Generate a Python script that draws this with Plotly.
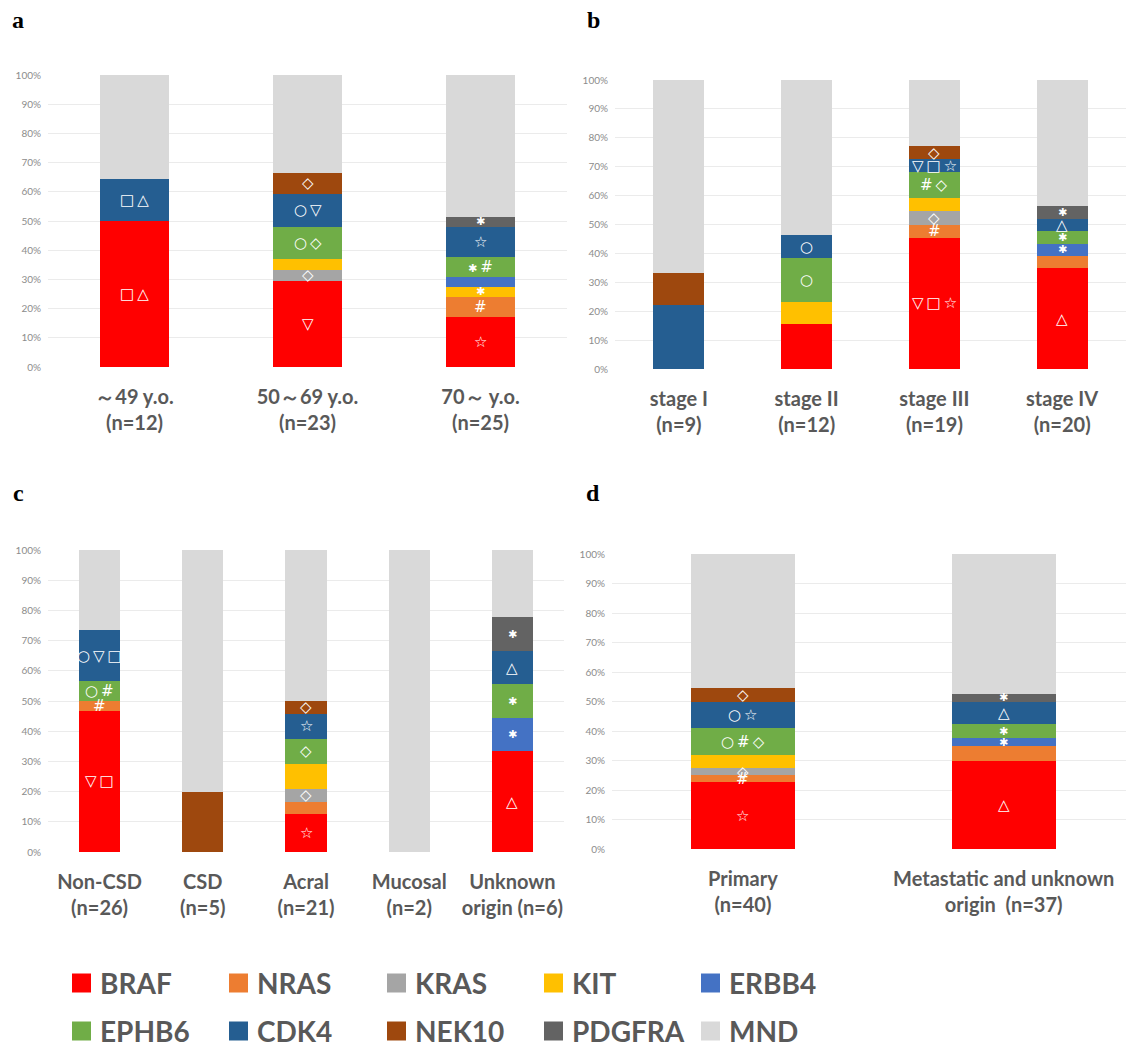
import plotly.graph_objects as go

# ---------------- data ----------------
genes = ["BRAF", "NRAS", "KRAS", "KIT", "ERBB4", "EPHB6", "CDK4", "NEK10", "PDGFRA", "MND"]
gene_colors = ["#FF0000", "#ED7D31", "#A5A5A5", "#FFC000", "#4472C4",
               "#70AD47", "#255E91", "#9E480E", "#636363", "#D9D9D9"]

# panel a: age
age_categories = ["～49 y.o.<br>(n=12)", "50～69 y.o.<br>(n=23)", "70～ y.o.<br>(n=25)"]
age_values = {
    "BRAF": [50.0, 29.6, 17.2], "NRAS": [0, 0, 6.9], "KRAS": [0, 3.7, 0],
    "KIT": [0, 3.7, 3.4], "ERBB4": [0, 0, 3.4], "EPHB6": [0, 11.1, 6.9],
    "CDK4": [14.3, 11.1, 10.3], "NEK10": [0, 7.4, 0], "PDGFRA": [0, 0, 3.4],
    "MND": [35.7, 33.4, 48.5],
}
age_symbols = {
    "BRAF": ["□△", "▽", "☆"], "NRAS": ["", "", "#"], "KRAS": ["", "◇", ""],
    "KIT": ["", "", "✱"], "EPHB6": ["", "○◇", "✱#"], "CDK4": ["□△", "○▽", "☆"],
    "NEK10": ["", "◇", ""], "PDGFRA": ["", "", "✱"],
}

# panel b: stage
stage_categories = ["stage I<br>(n=9)", "stage II<br>(n=12)", "stage III<br>(n=19)", "stage IV<br>(n=20)"]
stage_values = {
    "BRAF": [0, 15.4, 45.5, 34.8], "NRAS": [0, 0, 4.5, 4.3], "KRAS": [0, 0, 4.5, 0],
    "KIT": [0, 7.7, 4.5, 0], "ERBB4": [0, 0, 0, 4.3], "EPHB6": [0, 15.4, 9.1, 4.3],
    "CDK4": [22.2, 7.7, 4.5, 4.3], "NEK10": [11.1, 0, 4.5, 0], "PDGFRA": [0, 0, 0, 4.3],
    "MND": [66.7, 53.8, 22.9, 43.7],
}
stage_symbols = {
    "BRAF": ["", "", "▽□☆", "△"], "NRAS": ["", "", "#", ""], "KRAS": ["", "", "◇", ""],
    "ERBB4": ["", "", "", "✱"], "EPHB6": ["", "○", "#◇", "✱"],
    "CDK4": ["", "○", "▽□☆", "△"], "NEK10": ["", "", "◇", ""], "PDGFRA": ["", "", "", "✱"],
}

# panel c: subtype
type_categories = ["Non-CSD<br>(n=26)", "CSD<br>(n=5)", "Acral<br>(n=21)",
                   "Mucosal<br>(n=2)", "Unknown<br>origin (n=6)"]
type_values = {
    "BRAF": [46.7, 0, 12.5, 0, 33.3], "NRAS": [3.3, 0, 4.2, 0, 0], "KRAS": [0, 0, 4.2, 0, 0],
    "KIT": [0, 0, 8.3, 0, 0], "ERBB4": [0, 0, 0, 0, 11.1], "EPHB6": [6.7, 0, 8.3, 0, 11.1],
    "CDK4": [16.7, 0, 8.3, 0, 11.1], "NEK10": [0, 20.0, 4.2, 0, 0],
    "PDGFRA": [0, 0, 0, 0, 11.1], "MND": [26.6, 80.0, 50.0, 100.0, 22.3],
}
type_symbols = {
    "BRAF": ["▽□", "", "☆", "", "△"], "NRAS": ["#", "", "", "", ""],
    "KRAS": ["", "", "◇", "", ""], "ERBB4": ["", "", "", "", "✱"],
    "EPHB6": ["○#", "", "◇", "", "✱"], "CDK4": ["○▽□", "", "☆", "", "△"],
    "NEK10": ["", "", "◇", "", ""], "PDGFRA": ["", "", "", "", "✱"],
}

# panel d: site
site_categories = ["Primary<br>(n=40)", "Metastatic and unknown<br>origin  (n=37)"]
site_values = {
    "BRAF": [22.7, 30.0], "NRAS": [2.3, 5.0], "KRAS": [2.3, 0], "KIT": [4.5, 0],
    "ERBB4": [0, 2.5], "EPHB6": [9.1, 5.0], "CDK4": [9.1, 7.5], "NEK10": [4.5, 0],
    "PDGFRA": [0, 2.5], "MND": [45.5, 47.5],
}
site_symbols = {
    "BRAF": ["☆", "△"], "NRAS": ["#", ""], "KRAS": ["◇", ""], "ERBB4": ["", "✱"],
    "EPHB6": ["○#◇", "✱"], "CDK4": ["○☆", "△"], "NEK10": ["◇", ""], "PDGFRA": ["", "✱"],
}

panel_letters = ["a", "b", "c", "d"]

# ---------------- figure ----------------
W, H = 1126, 1049
fig = go.Figure()

panels = [
    (age_categories, age_values, age_symbols, "x", "y"),
    (stage_categories, stage_values, stage_symbols, "x2", "y2"),
    (type_categories, type_values, type_symbols, "x3", "y3"),
    (site_categories, site_values, site_symbols, "x4", "y4"),
]


def symbol_text(s):
    parts = []
    for ch in s:
        if ch == "✱":
            parts.append('<span style="font-size:11px">✱</span>')
        else:
            parts.append(ch)
    return "\u2009".join(parts)


annotations = []
for cats, vals, syms, xa, ya in panels:
    for g, c in zip(genes, gene_colors):
        fig.add_trace(go.Bar(
            x=cats, y=vals[g], name=g, marker=dict(color=c, line=dict(width=0)),
            xaxis=xa, yaxis=ya, showlegend=False, hoverinfo="name+y",
        ))
    for i, cat in enumerate(cats):
        base = 0.0
        for g in genes:
            v = vals[g][i]
            s = syms.get(g, [""] * len(cats))[i]
            if s:
                annotations.append(dict(
                    x=cat, y=base + v / 2, xref=xa, yref=ya, showarrow=False,
                    text=symbol_text(s), borderpad=0,
                    font=dict(family="DejaVu Sans", size=15, color="white"),
                ))
            base += v


def px_x(p):
    return p / W


def px_y(p):
    return 1 - p / H


axis_font = dict(family="Lato", size=20, color="#595959", weight="bold")
ytick_font = dict(family="Lato", size=10, color="#8C8C8C")


def xaxis(domain, rng=None):
    d = dict(domain=domain, type="category", showgrid=False, showline=False,
             zeroline=False, ticks="", tickfont=axis_font, automargin=False,
             ticklabelstandoff=16)
    if rng is not None:
        d["range"] = rng
    return d


def yaxis(domain, anchor):
    return dict(domain=domain, anchor=anchor, range=[0, 100], dtick=10, ticksuffix="%",
                showgrid=True, gridcolor="#EBEBEB", gridwidth=1, zeroline=False,
                showline=False, ticks="", tickfont=ytick_font, automargin=False,
                ticklabelstandoff=6)


layout = dict(
    width=W, height=H, margin=dict(l=0, r=0, t=0, b=0),
    paper_bgcolor="white", plot_bgcolor="white",
    barmode="stack", bargap=0.6, showlegend=False,
    xaxis=dict(xaxis([px_x(48), px_x(567)]), anchor="y"),
    yaxis=yaxis([px_y(367), px_y(75)], "x"),
    xaxis2=dict(xaxis([px_x(615), 1.0]), anchor="y2"),
    yaxis2=yaxis([px_y(369), px_y(80)], "x2"),
    xaxis3=dict(xaxis([px_x(48), px_x(564)]), anchor="y3"),
    yaxis3=yaxis([px_y(852), px_y(550)], "x3"),
    xaxis4=dict(xaxis([px_x(612), 1.0], rng=[-0.502, 1.469]), anchor="y4"),
    yaxis4=yaxis([px_y(849), px_y(554)], "x4"),
)

# panel letters
letter_pos = [(18, 20), (593, 20), (18, 493), (593, 493)]
for letter, (lx, ly) in zip(panel_letters, letter_pos):
    annotations.append(dict(
        x=px_x(lx), y=px_y(ly), xref="paper", yref="paper", showarrow=False,
        text="<b>%s</b>" % letter, xanchor="center", yanchor="middle",
        font=dict(family="Liberation Serif", size=24, color="black"),
    ))

# legend (two rows of five)
shapes = []
col_x = [72, 229, 387, 544, 701]
row_y = [983, 1031]
for k, (g, c) in enumerate(zip(genes, gene_colors)):
    cx = col_x[k % 5]
    cy = row_y[k // 5]
    shapes.append(dict(type="rect", xref="paper", yref="paper",
                       x0=px_x(cx), x1=px_x(cx + 19), y0=px_y(cy + 9.5), y1=px_y(cy - 9.5),
                       fillcolor=c, line=dict(width=0)))
    annotations.append(dict(
        x=px_x(cx + 27), y=px_y(cy), xref="paper", yref="paper", showarrow=False,
        text=g, xanchor="left", yanchor="middle", borderpad=0,
        font=dict(family="Lato", size=28, color="#595959", weight="bold"),
    ))

layout["annotations"] = annotations
layout["shapes"] = shapes
fig.update_layout(**layout)

fig.write_html(
    "out.html",
    config={"displayModeBar": False},
    post_script="document.body.style.margin='0px';document.body.style.overflow='hidden';",
)
